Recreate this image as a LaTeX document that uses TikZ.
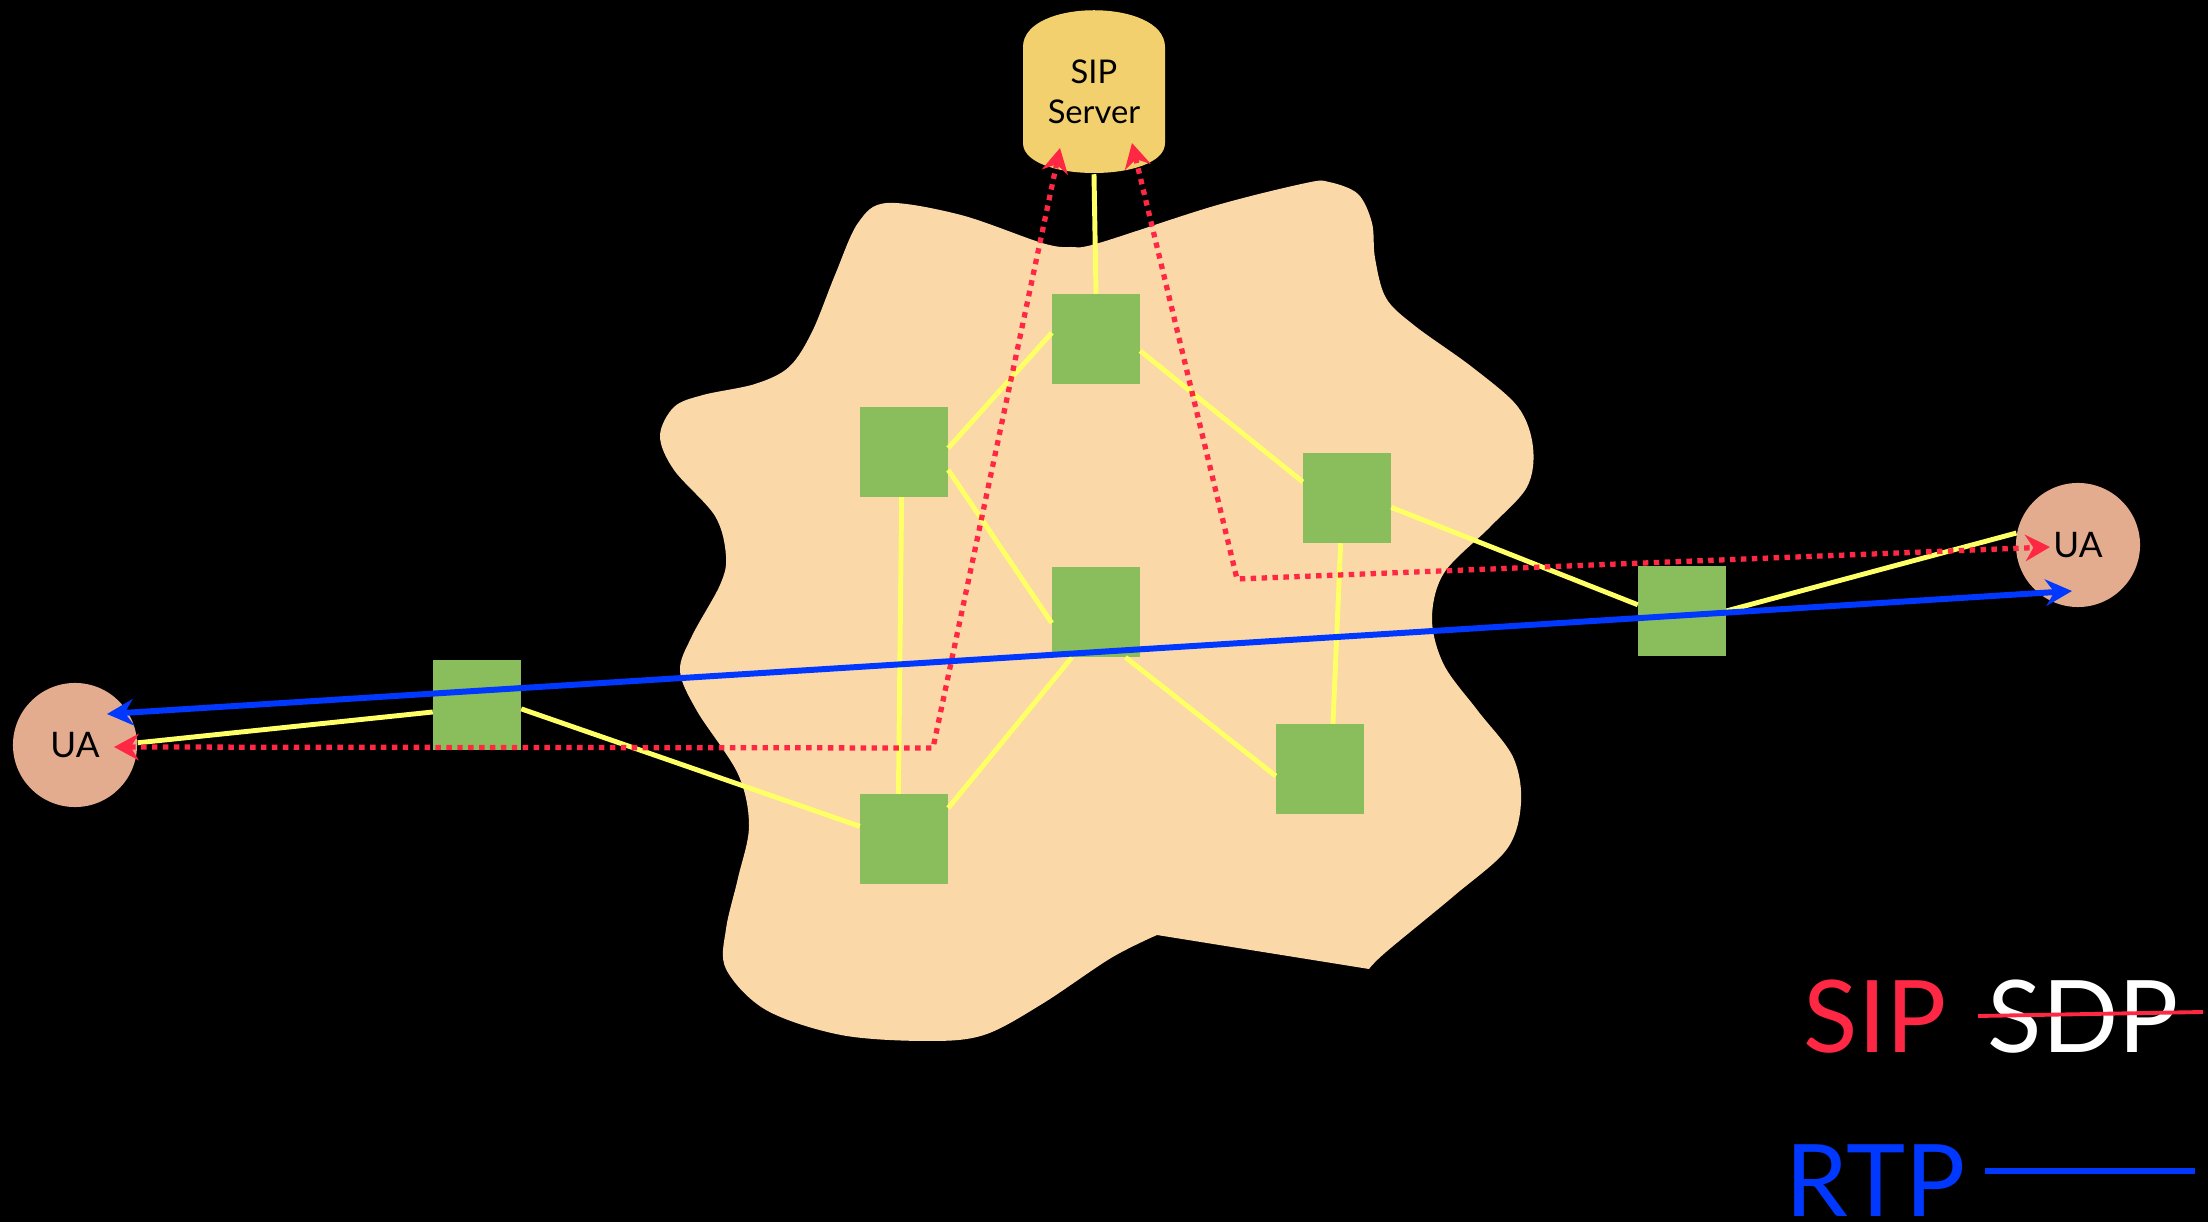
\documentclass[tikz,border=0pt]{standalone}
\usepackage{fontspec}
\setmainfont{Lato}
\usetikzlibrary{arrows.meta}
\definecolor{cloudfill}{RGB}{250,216,168}
\definecolor{srvfill}{RGB}{243,208,110}
\definecolor{routergreen}{RGB}{138,190,92}
\definecolor{uafill}{RGB}{228,172,142}
\definecolor{linkyellow}{RGB}{255,255,102}
\definecolor{sipred}{RGB}{255,40,68}
\definecolor{rtpblue}{RGB}{0,56,255}
\begin{document}
\begin{tikzpicture}[x=0.01cm,y=-0.01cm,
    router/.style={fill=routergreen, minimum width=0.87cm, minimum height=0.89cm, inner sep=0pt},
    ua/.style={circle, fill=uafill, minimum size=1.24cm, inner sep=0pt, font=\fontsize{10}{12}\selectfont},
    link/.style={draw=linkyellow, line width=1.4pt},
    sip/.style={draw=sipred, line width=1.5pt, dash pattern=on 1.55pt off 1.55pt,
        {Stealth[length=7pt,width=7.5pt]}-{Stealth[length=7pt,width=7.5pt]}},
    rtp/.style={draw=rtpblue, line width=1.7pt,
        {Stealth[length=7.5pt,width=7.5pt]}-{Stealth[length=7.5pt,width=7.5pt]}},
    legend/.style={anchor=base west, inner sep=0pt, font=\fontsize{28.5}{34}\selectfont}]
    \useasboundingbox (0,0) rectangle (2208,1222);
    \fill[black] (0,0) rectangle (2208,1222);

    \fill[cloudfill] plot[smooth, tension=0.55] coordinates {(1157,935) (1111,958) (1042,1004) (984,1035)
        (927,1041) (841,1035) (766,1010) (726,969) (726,929) (738,878) (749,826) (738,774) (697,711)
        (680,671) (692,636) (720,585) (726,556) (715,516) (674,470) (660,436) (674,407) (703,395)
        (755,384) (789,367) (812,332) (835,275) (858,223) (887,203) (961,215) (1042,243) (1071,247)
        (1099,243) (1214,206) (1306,183) (1329,182) (1358,194) (1372,223) (1375,258) (1386,298)
        (1415,326) (1472,367) (1518,407) (1533,447) (1527,487) (1490,527) (1444,573) (1432,619)
        (1444,665) (1478,711) (1513,757) (1521,803) (1507,849) (1455,895) (1386,952) (1369,969)} -- cycle;

    \fill[srvfill] (1023,47) -- (1023,143) .. controls (1023,183) and (1165,183) .. (1165,143)
        -- (1165,47) .. controls (1165,-2) and (1023,-2) .. (1023,47) -- cycle;
    \node[font=\fontsize{9.3}{11.5}\selectfont, align=center, minimum width=1.42cm, minimum height=1.63cm] (srv) at (1094,92) {SIP\\Server};

    \node[router] (sqT) at (1096,339) {};
    \node[router] (sqUL) at (904,452) {};
    \node[router] (sqR) at (1347,498) {};
    \node[router] (sqM) at (1096,612) {};
    \node[router] (sqLR) at (1320,769) {};
    \node[router] (sqLL) at (904,839) {};
    \node[router] (sqL) at (477,705) {};
    \node[router] (sqRO) at (1682,611) {};

    \node[ua] (uaL) at (75,745) {UA};
    \node[ua] (uaR) at (2078,545) {UA};

    \draw[link] (srv.south) -- (sqT.north);
    \draw[link] (sqUL.5) -- (sqT.172);
    \draw[link] (sqT.-15) -- (sqR.160);
    \draw[link] (sqUL.-22) -- (sqM.194);
    \draw[link] (sqUL.-93) -- (sqLL.97);
    \draw[link] (sqM.-118) -- (sqLL.35);
    \draw[link] (sqM.-57) -- (sqLR.189);
    \draw[link] (sqR.-98) -- (sqLR.74);
    \draw[link] (sqR.-12) -- (sqRO.172);
    \draw[link] (sqRO.east) -- (uaR.169);
    \draw[link] (uaL.2) -- (sqL.189);
    \draw[link] (sqL.-5) -- (sqLL.164);

    \path (srv.center) ++(-34,56) coordinate (sipSL);
    \path (srv.center) ++(38,51) coordinate (sipSR);
    \path (uaL.center) ++(39,2) coordinate (sipUL);
    \path (uaR.center) ++(-28,2) coordinate (sipUR);
    \path (uaL.center) ++(32,-31) coordinate (rtpL);
    \path (uaR.center) ++(-6,46) coordinate (rtpR);
    \coordinate (bendL) at (933,748);
    \coordinate (bendR) at (1237,579);

    \draw[sip] (sipSL) -- (bendL) -- (sipUL);
    \draw[sip] (sipSR) -- (bendR) -- (sipUR);
    \draw[rtp] (rtpL) -- (rtpR);

    \node[legend, text=sipred] (legSip) at (1803,1053) {SIP};
    \node[legend, text=white] (legSdp) at (1987,1053) {SDP};
    \node[legend, text=rtpblue] (legRtp) at (1785,1216) {RTP};
    \draw[sipred, line width=1.1pt] (1978,1016) -- (2203,1012);
    \draw[rtpblue, line width=1.5pt] (1985,1171) -- (2195,1171);
\end{tikzpicture}
\end{document}
